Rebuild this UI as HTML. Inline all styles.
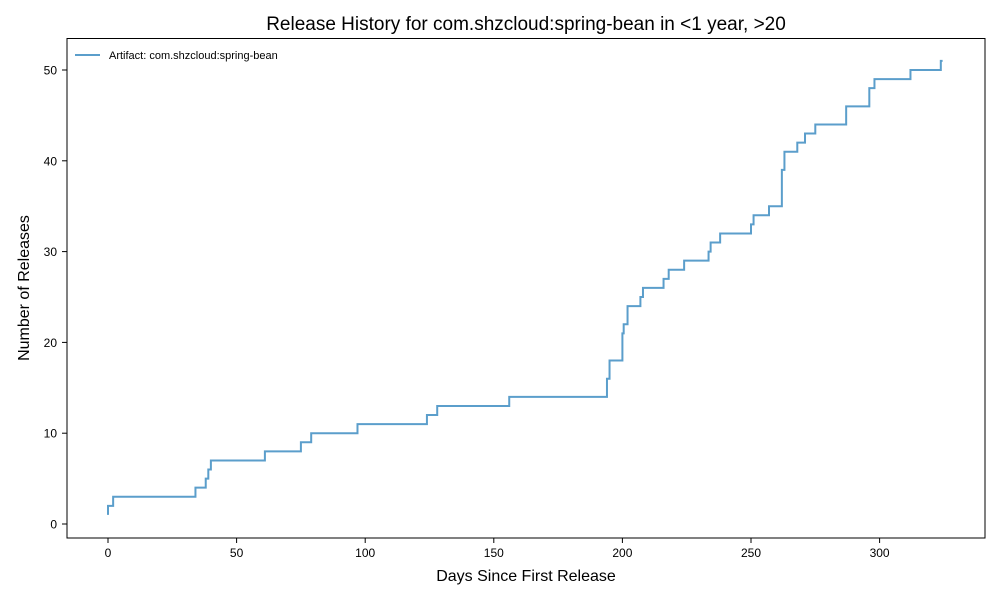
<!DOCTYPE html>
<html><head><meta charset="utf-8"><style>
body{margin:0;background:#fff;}
svg{display:block;font-family:"Liberation Sans","DejaVu Sans",sans-serif;}
</style></head><body>
<svg id="chart" width="1000" height="600">
<rect width="1000" height="600" fill="#fff"/>
<text x="526" y="30" text-anchor="middle" font-size="19" fill="#000">Release History for com.shzcloud:spring-bean in &lt;1 year, &gt;20</text>
<g id="xt"></g><g id="yt"></g>
<path id="line" fill="none" stroke="#5b9ecb" stroke-width="2"/>
<rect x="67" y="38.5" width="918" height="499.5" fill="none" stroke="#000" stroke-width="1"/>
<g>
<line x1="75" y1="55" x2="100" y2="55" stroke="#5b9ecb" stroke-width="2"/>
<text x="109" y="59" font-size="11">Artifact: com.shzcloud:spring-bean</text>
</g>
<text x="526" y="581" text-anchor="middle" font-size="16">Days Since First Release</text>
<text transform="translate(29,288) rotate(-90)" text-anchor="middle" font-size="16">Number of Releases</text>
</svg>
<script>
const days = [0,0,2,34,38,39,40,61,75,79,97,124,128,156,194,195,200,200.5,202,207,208,216,218,224,233.5,234.3,238,250,251,257,262,263,268,271,275,287,296,298,312,323.8];
const counts = [1,2,3,4,5,6,7,8,9,10,11,12,13,14,16,18,21,22,24,25,26,27,28,29,30,31,32,33,34,35,39,41,42,43,44,46,48,49,50,51];
const endDay = 324.5;
const xTicks = [0,50,100,150,200,250,300];
const yTicks = [0,10,20,30,40,50];
const X = d => 108 + d*2.572;
const Y = v => 524 - v*9.08;
const svg = document.getElementById('chart');
const NS = 'http://www.w3.org/2000/svg';
let d = 'M' + X(days[0]) + ',' + Y(counts[0]);
for (let i = 1; i < days.length; i++) {
  d += ' H' + X(days[i]) + ' V' + Y(counts[i]);
}
d += ' H' + X(endDay);
document.getElementById('line').setAttribute('d', d);
const xt = document.getElementById('xt');
xTicks.forEach(t => {
  const l = document.createElementNS(NS,'line');
  l.setAttribute('x1',X(t));l.setAttribute('x2',X(t));l.setAttribute('y1',538);l.setAttribute('y2',543);l.setAttribute('stroke','#000');
  
  
  xt.appendChild(l);
  const tx = document.createElementNS(NS,'text');
  tx.setAttribute('x',X(t));tx.setAttribute('y',557);tx.setAttribute('text-anchor','middle');tx.setAttribute('font-size','12');
  tx.textContent = t;
  
  
  xt.appendChild(tx);
});
const yt = document.getElementById('yt');
yTicks.forEach(t => {
  const l = document.createElementNS(NS,'line');
  l.setAttribute('x1',62);l.setAttribute('x2',67);l.setAttribute('y1',Y(t));l.setAttribute('y2',Y(t));l.setAttribute('stroke','#000');
  
  
  yt.appendChild(l);
  const tx = document.createElementNS(NS,'text');
  tx.setAttribute('x',57);tx.setAttribute('y',Y(t)+4.5);tx.setAttribute('text-anchor','end');tx.setAttribute('font-size','12');
  tx.textContent = t;
  
  
  yt.appendChild(tx);
});
</script>
</body></html>
